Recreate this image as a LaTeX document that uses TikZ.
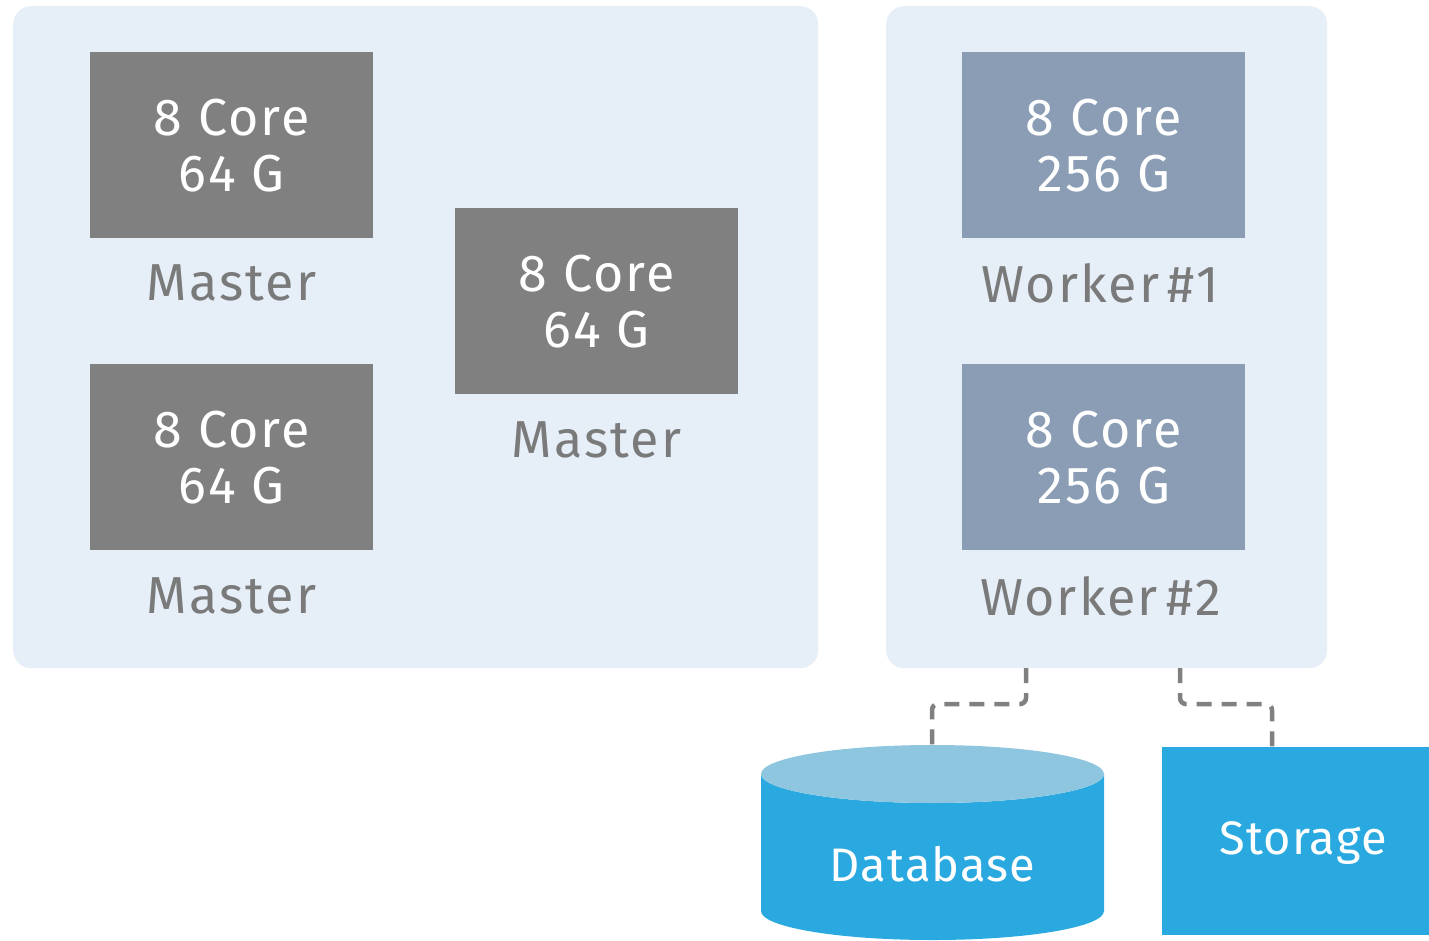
\documentclass[tikz,border=0pt]{standalone}
\usepackage{fontspec}
\setmainfont{Fira Sans}
\definecolor{panelbg}{HTML}{E6EEF8}
\definecolor{mastergray}{HTML}{808080}
\definecolor{workerblue}{HTML}{8A9DB5}
\definecolor{labelgray}{HTML}{7A7A7A}
\definecolor{dbblue}{HTML}{2AA9E0}
\definecolor{dbtop}{HTML}{8EC6E0}
\definecolor{conngray}{HTML}{808080}
\newcommand{\bigfont}{\fontsize{52}{56}\selectfont\addfontfeature{LetterSpace=4}}
\newcommand{\storefont}{\fontsize{47}{56}\selectfont\addfontfeature{LetterSpace=2.5}}
\begin{document}
\begin{tikzpicture}[x=1pt,y=-1pt,
  panel/.style={fill=panelbg, draw=none, rounded corners=18pt, anchor=north west, inner sep=0pt},
  hostbox/.style={draw=none, minimum width=283pt, minimum height=186pt, inner sep=0pt,
    text=white, align=center, font=\bigfont, anchor=north west},
  masterbox/.style={hostbox, fill=mastergray},
  workerbox/.style={hostbox, fill=workerblue},
  hostlabel/.style={text=labelgray, font=\bigfont, inner sep=0pt},
  conn/.style={draw=conngray, line width=4.5pt, dash pattern=on 15pt off 10pt, rounded corners=6pt},
  bigtext/.style={text=white, font=\storefont, inner sep=0pt}
]
\useasboundingbox (0,0) rectangle (1429,940);
\fill[white] (0,0) rectangle (1429,940);

% panels
\node[panel, minimum width=805pt, minimum height=662pt] (mpanel) at (13,6) {};
\node[panel, minimum width=441pt, minimum height=662pt] (wpanel) at (886,6) {};

% master hosts
\node[masterbox] (m1) at (90,52) {8 Core\\64 G};
\node[hostlabel] (m1l) at (231.5,283) {Master};
\node[masterbox] (m2) at (455,208) {8 Core\\64 G};
\node[hostlabel] (m2l) at (596.5,440) {Master};
\node[masterbox] (m3) at (90,364) {8 Core\\64 G};
\node[hostlabel] (m3l) at (231.5,596) {Master};

% worker hosts
\node[workerbox] (w1) at (962,52) {8 Core\\256 G};
\node[hostlabel] (w1l) at (1100.5,283) {Worker\,\#1};
\node[workerbox] (w2) at (962,364) {8 Core\\256 G};
\node[hostlabel] (w2l) at (1100.5,596) {Worker\,\#2};

% database cylinder
\fill[dbblue] (761,774) -- (761,911)
  arc[start angle=180, end angle=0, x radius=171.5, y radius=29]
  -- (1104,774)
  arc[start angle=0, end angle=180, x radius=171.5, y radius=29] -- cycle;
\fill[dbtop] (932.5,774) ellipse[x radius=171.5, y radius=29];
\coordinate (dbtopc) at (932,747);
\node[bigtext] (db) at (932.5,864) {Database};

% storage
\node[fill=dbblue, draw=none, minimum width=267pt, minimum height=188pt, inner sep=0pt, anchor=north west] (st) at (1162,747) {};
\node[bigtext] (stl) at (1303,843) {Storage};

% connectors
\coordinate (c1) at (1026,668);
\coordinate (c2) at (1180,668);
\coordinate (sttop) at (1272,747);
\draw[conn] (c1) -- (1026,704) -- (932,704) -- (dbtopc);
\draw[conn] (c2) -- (1180,704) -- (1272,704) -- (sttop);
\end{tikzpicture}
\end{document}
